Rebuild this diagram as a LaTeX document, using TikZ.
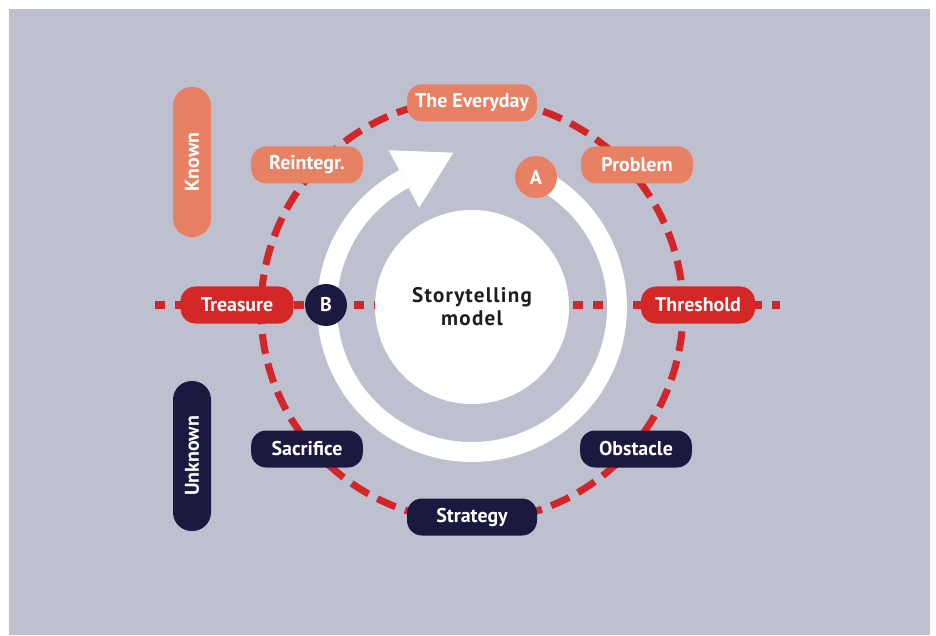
\documentclass[tikz,border=0pt]{standalone}
\usepackage{fontspec}
\setmainfont{PT Sans}
\newfontfamily\hubfont[LetterSpace=6.0]{PT Sans}
\usetikzlibrary{calc}
\definecolor{bgblue}{RGB}{190,192,207}
\definecolor{salmon}{RGB}{232,128,100}
\definecolor{tred}{RGB}{212,40,40}
\definecolor{navy}{RGB}{28,25,64}
\definecolor{dashred}{RGB}{210,38,42}
\definecolor{ink}{RGB}{30,30,30}

\begin{document}
\begin{tikzpicture}[x=0.03cm, y=0.03cm,
    pill/.style={rounded corners=0.45cm, minimum height=1.11cm, minimum width=3.35cm,
        inner sep=0pt, text=white, font=\bfseries\fontsize{17}{20}\selectfont},
    long/.style={minimum width=3.9cm},
    known/.style={pill, fill=salmon},
    border/.style={pill, fill=tred},
    unknown/.style={pill, fill=navy},
    side/.style={rotate=90, minimum width=4.5cm, minimum height=1.14cm, rounded corners=0.56cm,
        inner sep=0pt, text=white, font=\bfseries\fontsize{17}{20}\selectfont},
    marker/.style={circle, minimum size=1.26cm, inner sep=0pt, text=white,
        font=\bfseries\fontsize{17}{20}\selectfont},
    hub/.style={circle, fill=white, minimum size=5.82cm, inner sep=0pt, align=center, text=ink,
        font=\hubfont\bfseries\fontsize{18}{19.5}\selectfont},
    rim/.style={dashred, line width=6pt, dash pattern=on 17pt off 8.5pt},
    axis/.style={dashred, line width=6.8pt, dash pattern=on 8.5pt off 8.5pt},
    ring/.style={white, line width=17pt}]

    \useasboundingbox (0,0) rectangle (936,635);
    \fill[white] (0,0) rectangle (936,635);
    \fill[bgblue] (9,0) rectangle (930,626);

    \coordinate (C) at (472,328);
    \coordinate (D) at (472,325);
    \coordinate (west) at (155,330);
    \coordinate (east) at (780,330);

    % dashed cycle and the known/unknown border
    \draw[rim] (D) circle[radius=211];
    \draw[axis] (west) -- (east);

    % white arrow round the hub
    \draw[ring] (C) ++(64:145) arc[start angle=64, end angle=-242, radius=145];
    \fill[white] ($(C)+(118:112.5)$) -- ($(C)+(118:177.5)$) -- ($(C)+(118:145)+(28:56)$) -- cycle;

    \node[hub] (hub) at (C) {Storytelling\\model};

    \node[known, long] (everyday) at (472,532) {The Everyday};
    \node[known] (reintegr) at (307,470) {Reintegr.};
    \node[known] (problem) at (637,470) {Problem};
    \node[border, minimum width=3.42cm] (threshold) at (698,330) {Threshold};
    \node[border, minimum width=3.39cm] (treasure) at (237,330) {Treasure};
    \node[unknown] (sacrifice) at (307,186) {Sacrifice};
    \node[unknown, long] (strategy) at (472,118) {Strategy};
    \node[unknown] (obstacle) at (636,186) {Obstacle};

    \node[side, fill=salmon] (known) at (192,473) {Known};
    \node[side, fill=navy] (unknown) at (192,179) {Unknown};

    \node[marker, fill=salmon] (A) at (536,458) {A};
    \node[marker, fill=navy] (B) at (326,330) {B};

\end{tikzpicture}
\end{document}
